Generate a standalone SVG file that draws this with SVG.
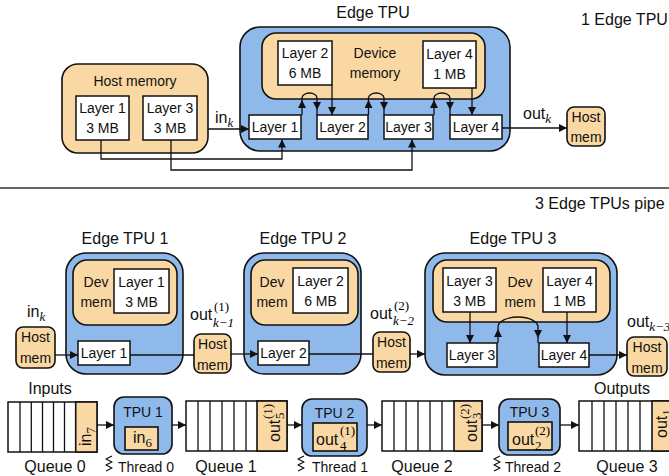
<svg xmlns="http://www.w3.org/2000/svg" width="669" height="476" viewBox="0 0 669 476">
<defs>
<marker id="ah" viewBox="0 0 10 10" refX="10" refY="5" markerWidth="8" markerHeight="8" markerUnits="userSpaceOnUse" orient="auto">
<path d="M0,0 L10,5 L0,10 z" fill="#111"/>
</marker>
</defs>
<style>
.blue{fill:#8fb9eb;stroke:#111;stroke-width:1.6}
.tan{fill:#fad8a3;stroke:#111;stroke-width:1.6}
.wb{fill:#fff;stroke:#111;stroke-width:1.5}
.t{font-family:"Liberation Sans",Arial,sans-serif;font-size:14px;fill:#111;text-anchor:middle}
.s{text-anchor:start}
.big{font-size:16px}
.mi{font-family:"Liberation Serif","Times New Roman",serif;font-style:italic;font-size:13px}
.mr{font-family:"Liberation Serif","Times New Roman",serif;font-size:13px}
.ln{fill:none;stroke:#111;stroke-width:1.3}
.ar{fill:none;stroke:#111;stroke-width:1.3;marker-end:url(#ah)}
.sq{fill:none;stroke:#111;stroke-width:1.2;stroke-linejoin:round}
</style>
<rect width="669" height="476" fill="#fff"/>

<!-- ===== Top: 1 Edge TPU ===== -->
<text class="t big" x="373" y="18">Edge TPU</text>
<text class="t big s" x="581" y="25">1 Edge TPU</text>

<g id="host-memory">
<rect class="tan" x="62" y="64" width="146" height="89" rx="16"/>
<text class="t" x="135" y="86" font-size="14.5">Host memory</text>
</g>
<g id="host-layer1">
<rect class="wb" x="76" y="96" width="53" height="44"/>
<text class="t" x="102.5" y="113">Layer 1</text>
<text class="t" x="102.5" y="133">3 MB</text>
</g>
<g id="host-layer3">
<rect class="wb" x="143" y="96" width="54" height="44"/>
<text class="t" x="170" y="113">Layer 3</text>
<text class="t" x="170" y="133">3 MB</text>
</g>

<g id="edge-tpu">
<rect class="blue" x="240" y="27" width="270" height="124" rx="20"/>
</g>
<g id="device-memory">
<rect class="tan" x="262" y="33" width="223" height="66" rx="14"/>
<text class="t" x="375" y="58">Device</text>
<text class="t" x="375" y="78">memory</text>
</g>
<g id="dev-layer2">
<rect class="wb" x="278" y="41" width="54" height="44"/>
<text class="t" x="305" y="58">Layer 2</text>
<text class="t" x="305" y="78">6 MB</text>
</g>
<g id="dev-layer4">
<rect class="wb" x="423" y="41" width="53" height="47"/>
<text class="t" x="449.5" y="59">Layer 4</text>
<text class="t" x="449.5" y="79">1 MB</text>
</g>
<g id="tpu-layer1">
<rect class="wb" x="249" y="115" width="52" height="24"/>
<text class="t" x="275" y="132">Layer 1</text>
</g>
<g id="tpu-layer2">
<rect class="wb" x="317" y="115" width="51" height="24"/>
<text class="t" x="342.5" y="132">Layer 2</text>
</g>
<g id="tpu-layer3">
<rect class="wb" x="384" y="115" width="49" height="24"/>
<text class="t" x="408.5" y="132">Layer 3</text>
</g>
<g id="tpu-layer4">
<rect class="wb" x="450" y="115" width="52" height="24"/>
<text class="t" x="476" y="132">Layer 4</text>
</g>
<g id="host-mem-out1">
<rect class="tan" x="567" y="107" width="38" height="39" rx="7"/>
<text class="t" x="586" y="122">Host</text>
<text class="t" x="586" y="142">mem</text>
</g>

<g id="connectors-top">
<path class="ar" d="M208,129 H249"/>
<text class="t big s" x="215" y="123">in<tspan class="mi" font-size="14" dy="4">k</tspan></text>
<path class="ar" d="M101,140 V159 H282 V139.5"/>
<path class="ar" d="M171,140 V170 H412 V139.5"/>
<path class="ar" d="M332,85 V115"/>
<path class="ar" d="M472,88 V115"/>
<path class="ar" d="M302,115 V100"/>
<path class="ar" d="M302,100 V98 A7.5,5 0 0 1 317,98 V110"/>
<path class="ln" d="M317,110 V115"/>
<path class="ar" d="M368.5,115 V100"/>
<path class="ar" d="M368.5,100 V98 A7.75,5 0 0 1 384,98 V110"/>
<path class="ln" d="M384,110 V115"/>
<path class="ar" d="M434,115 V100"/>
<path class="ar" d="M434,100 V98 A8,5 0 0 1 450,98 V110"/>
<path class="ln" d="M450,110 V115"/>
<path class="ar" d="M502,128 H567"/>
<text class="t big s" x="523" y="119">out<tspan class="mi" font-size="14" dy="4">k</tspan></text>
</g>

<line x1="0" y1="188" x2="669" y2="188" stroke="#333" stroke-width="1.5"/>
<text class="t big s" x="535" y="209">3 Edge TPUs pipe</text>

<!-- ===== Pipeline ===== -->
<text class="t big" x="125" y="244">Edge TPU 1</text>
<text class="t big" x="303" y="244">Edge TPU 2</text>
<text class="t big" x="513" y="244">Edge TPU 3</text>

<g id="host-mem-in">
<rect class="tan" x="16" y="327" width="39" height="41" rx="7"/>
<text class="t" x="35.5" y="342">Host</text>
<text class="t" x="35.5" y="363">mem</text>
</g>
<g id="edge-tpu-1">
<rect class="blue" x="66" y="253" width="117" height="121" rx="20"/>
<rect class="tan" x="73" y="260" width="104" height="65" rx="14"/>
<text class="t" x="96" y="287">Dev</text>
<text class="t" x="96" y="307">mem</text>
<rect class="wb" x="114" y="269" width="55" height="44"/>
<text class="t" x="141.5" y="287">Layer 1</text>
<text class="t" x="141.5" y="307">3 MB</text>
<rect class="wb" x="78" y="341" width="52" height="24"/>
<text class="t" x="104" y="358">Layer 1</text>
</g>
<g id="host-mem-1">
<rect class="tan" x="194" y="334" width="37" height="39" rx="7"/>
<text class="t" x="212.5" y="349">Host</text>
<text class="t" x="212.5" y="370">mem</text>
</g>
<g id="edge-tpu-2">
<rect class="blue" x="244" y="253" width="117" height="121" rx="20"/>
<rect class="tan" x="251" y="260" width="107" height="65" rx="14"/>
<text class="t" x="272" y="287">Dev</text>
<text class="t" x="272" y="307">mem</text>
<rect class="wb" x="293" y="268" width="55" height="45"/>
<text class="t" x="320.5" y="286">Layer 2</text>
<text class="t" x="320.5" y="306">6 MB</text>
<rect class="wb" x="258" y="341" width="51" height="24"/>
<text class="t" x="283.5" y="358">Layer 2</text>
</g>
<g id="host-mem-2">
<rect class="tan" x="373" y="332" width="37" height="40" rx="7"/>
<text class="t" x="391.5" y="347">Host</text>
<text class="t" x="391.5" y="368">mem</text>
</g>
<g id="edge-tpu-3">
<rect class="blue" x="425" y="253" width="192" height="122" rx="20"/>
<rect class="tan" x="433" y="260" width="177" height="62" rx="14"/>
<text class="t" x="520" y="287">Dev</text>
<text class="t" x="520" y="307">mem</text>
<rect class="wb" x="443" y="268" width="53" height="44"/>
<text class="t" x="469.5" y="286">Layer 3</text>
<text class="t" x="469.5" y="306">3 MB</text>
<rect class="wb" x="543" y="268" width="53" height="44"/>
<text class="t" x="569.5" y="286">Layer 4</text>
<text class="t" x="569.5" y="306">1 MB</text>
<rect class="wb" x="447" y="343" width="50" height="24"/>
<text class="t" x="472" y="360">Layer 3</text>
<rect class="wb" x="539" y="343" width="50" height="24"/>
<text class="t" x="564" y="360">Layer 4</text>
</g>
<g id="host-mem-3">
<rect class="tan" x="627" y="337" width="40" height="39" rx="7"/>
<text class="t" x="647" y="352">Host</text>
<text class="t" x="647" y="373">mem</text>
</g>

<g id="connectors-pipeline">
<text class="t big s" x="27" y="317">in<tspan class="mi" font-size="14" dy="4">k</tspan></text>
<path class="ar" d="M55,355 H78"/>
<path class="ln" d="M130,355 H194"/>
<text class="t big s" x="190" y="320">out</text>
<text class="mr" x="214" y="311">(1)</text>
<text class="mi" x="213" y="327">k−1</text>
<path class="ar" d="M231,354 H258"/>
<path class="ln" d="M309,354 H373"/>
<text class="t big s" x="370" y="319">out</text>
<text class="mr" x="394" y="310">(2)</text>
<text class="mi" x="393" y="325">k−2</text>
<path class="ar" d="M410,354 H425"/>
<path class="ar" d="M470,312 V343"/>
<path class="ar" d="M567,312 V343"/>
<path class="ar" d="M498,343 V329"/>
<path class="ar" d="M498,329 V327 A20,10 0 0 1 538,327 V338"/>
<path class="ln" d="M538,338 V343"/>
<path class="ar" d="M589,355 H627"/>
<text class="t big s" x="627" y="327">out<tspan class="mi" font-size="14" dy="4">k−3</tspan></text>
</g>

<!-- ===== Queues and threads ===== -->
<text class="t big" x="50" y="394">Inputs</text>
<text class="t big" x="622" y="394">Outputs</text>

<g id="queue-0">
<rect class="wb" x="8" y="402" width="89" height="50"/>
<rect class="tan" x="75.7" y="402" width="21.3" height="50"/>
<path class="ln" d="M20,402 V452 M31.3,402 V452 M42.5,402 V452 M53.5,402 V452 M64.5,402 V452"/>
<text class="t big s" transform="translate(91,446) rotate(-90)">in<tspan class="mr" font-size="14" dy="4">7</tspan></text>
<text class="t big" x="55" y="472">Queue 0</text>
</g>
<g id="tpu-1-thread">
<rect class="blue" x="114" y="397" width="58" height="57" rx="10"/>
<text class="t" x="143" y="417">TPU 1</text>
<rect class="tan" x="125" y="427" width="33" height="23" stroke-width="1.5"/>
<text class="t big s" x="133" y="443">in<tspan class="mr" font-size="14" dy="4">6</tspan></text>
<path class="sq" d="M112,456 L106,459 L112,462 L106,465 L112,468 L106,471"/>
<text class="t s" x="118" y="472">Thread 0</text>
</g>
<g id="queue-1">
<rect class="wb" x="186" y="401" width="101" height="50"/>
<rect class="tan" x="257" y="401" width="30" height="50"/>
<path class="ln" d="M198,401 V451 M210,401 V451 M222,401 V451 M234,401 V451 M246,401 V451"/>
<text class="t big s" transform="translate(280,442) rotate(-90)">out<tspan class="mr" x="23" y="-8">(1)</tspan><tspan class="mr" font-size="14" x="23" y="4">5</tspan></text>
<text class="t big" x="226" y="472">Queue 1</text>
</g>
<g id="tpu-2-thread">
<rect class="blue" x="302" y="399" width="65" height="57" rx="10"/>
<text class="t" x="334.5" y="418">TPU 2</text>
<rect class="tan" x="313" y="423" width="44" height="28" stroke-width="1.5"/>
<text class="t big s" x="316" y="445">out</text>
<text class="mr" x="340" y="435">(1)</text>
<text class="mr" font-size="13" x="340" y="450">4</text>
<path class="sq" d="M304,456 L298,459 L304,462 L298,465 L304,468 L298,471"/>
<text class="t s" x="312" y="472">Thread 1</text>
</g>
<g id="queue-2">
<rect class="wb" x="382" y="401" width="100" height="50"/>
<rect class="tan" x="454" y="401" width="28" height="50"/>
<path class="ln" d="M394,401 V451 M406,401 V451 M418,401 V451 M430,401 V451 M442,401 V451"/>
<text class="t big s" transform="translate(477,442) rotate(-90)">out<tspan class="mr" x="23" y="-8">(2)</tspan><tspan class="mr" font-size="14" x="23" y="4">3</tspan></text>
<text class="t big" x="422" y="472">Queue 2</text>
</g>
<g id="tpu-3-thread">
<rect class="blue" x="499" y="399" width="61" height="56" rx="10"/>
<text class="t" x="529.5" y="417">TPU 3</text>
<rect class="tan" x="508" y="422" width="44" height="28" stroke-width="1.5"/>
<text class="t big s" x="512" y="445">out</text>
<text class="mr" x="535" y="435">(2)</text>
<text class="mr" font-size="13" x="535" y="449.5">2</text>
<path class="sq" d="M500,456 L494,459 L500,462 L494,465 L500,468 L494,471"/>
<text class="t s" x="505" y="472">Thread 2</text>
</g>
<g id="queue-3">
<rect class="wb" x="579" y="401" width="100" height="50"/>
<rect class="tan" x="652" y="401" width="27" height="50"/>
<path class="ln" d="M592,401 V451 M604,401 V451 M616,401 V451 M628,401 V451 M640,401 V451"/>
<text class="t big s" transform="translate(667,438) rotate(-90)">out<tspan class="mr" font-size="14" dy="4">1</tspan></text>
<text class="t big" x="627" y="472">Queue 3</text>
</g>

<g id="connectors-queues">
<path class="ar" d="M97,425 H114"/>
<path class="ar" d="M172,425 H186"/>
<path class="ar" d="M287,425 H302"/>
<path class="ar" d="M367,425 H382"/>
<path class="ar" d="M482,425 H499"/>
<path class="ar" d="M560,425 H579"/>
</g>
</svg>
